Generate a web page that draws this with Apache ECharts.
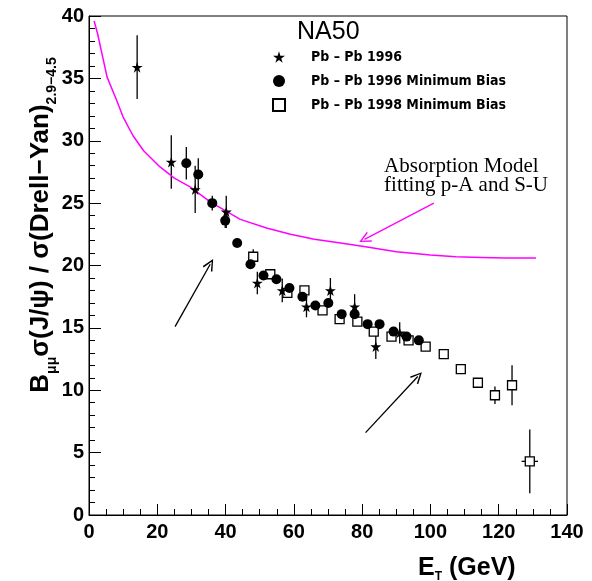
<!DOCTYPE html>
<html>
<head>
<meta charset="utf-8">
<script src="https://cdn.jsdelivr.net/npm/echarts@6/dist/echarts.min.js"></script>
<style>html,body{margin:0;padding:0;background:#fff;}#c{width:592px;height:581px;}</style>
</head>
<body>
<div id="c"></div>
<script>
// ---- data ----
var xTicks = [0, 20, 40, 60, 80, 100, 120, 140];
var yTicks = [0, 5, 10, 15, 20, 25, 30, 35, 40];

// Pb-Pb 1996 (stars)
var pb96_x   = [14.1, 24.1, 31.1, 40.2, 49.3, 56.6, 63.7, 70.7, 77.8, 84.0, 91.0];
var pb96_y   = [35.9, 28.3, 26.1, 24.3, 18.6, 18.0, 16.7, 18.0, 16.7, 13.5, 14.6];
var pb96_err = [2.55, 2.15, 1.9, 1.3, 0.9, 0.95, 0.85, 1.0, 1.0, 1.0, 0.85];

// Pb-Pb 1996 Minimum Bias (filled circles)
var mb96_x   = [28.5, 32.0, 36.1, 39.9, 43.4, 47.3, 51.1, 54.9, 58.7, 62.5, 66.3, 70.1, 74.0, 77.8, 81.6, 85.1, 89.2, 93.0, 96.6];
var mb96_y   = [28.2, 27.3, 25.0, 23.6, 21.8, 20.1, 19.2, 18.9, 18.2, 17.5, 16.8, 17.0, 16.1, 16.1, 15.3, 15.3, 14.7, 14.3, 14.0];
var mb96_err = [1.3, 1.3, 0.6, 0.6, 0.3, 0.3, 0.3, 0.3, 0.3, 0.3, 0.3, 0.3, 0.3, 0.3, 0.3, 0.3, 0.3, 0.3, 0.3];

// Pb-Pb 1998 Minimum Bias (open squares)
var mb98_x    = [48.1, 53.1, 58.1, 63.1, 68.4, 73.4, 78.6, 83.4, 88.6, 93.6, 98.6, 103.9, 108.9, 113.9, 118.9, 123.9, 129.1];
var mb98_y    = [20.7, 19.3, 17.8, 18.0, 16.4, 15.7, 15.5, 14.7, 14.3, 14.0, 13.5, 12.9, 11.7, 10.6, 9.6, 10.4, 4.3];
var mb98_err  = [0.6, 0.3, 0.3, 0.3, 0.3, 0.3, 0.3, 0.3, 0.3, 0.3, 0.3, 0.3, 0.3, 0.3, 0.7, 1.6, 2.55];
var mb98_xerr = [0, 0, 0, 0, 0, 0, 0, 0, 0, 0, 0, 0, 0, 0, 0, 0, 2.4];

// Absorption model curve
var model_x = [1.5, 2.5, 5.3, 8.0, 10.0, 12.9, 16.0, 20.8, 25.0, 29.6, 35.5, 44.3, 52.0, 59.0, 66.0, 73.7, 81.0, 90.0, 100.0, 107.4, 115.0, 122.0, 130.9];
var model_y = [39.6, 38.6, 35.1, 33.3, 31.9, 30.4, 29.2, 27.9, 27.0, 26.3, 25.1, 23.7, 23.0, 22.5, 22.1, 21.8, 21.5, 21.1, 20.85, 20.7, 20.65, 20.6, 20.6];

// Arrows (data coordinates: from -> to)
var arrowsBlack = [[[25.2, 15.1], [35.5, 20.1]], [[81.0, 6.6], [96.3, 11.1]]];
var arrowModel  = [[101.0, 25.0], [80.7, 22.1]];

// ---- build ----
function zip(xs, ys) { return xs.map(function (x, i) { return [x, ys[i]]; }); }
function errData(xs, ys, es, xe) {
  return xs.map(function (x, i) { return [x, ys[i] - es[i], ys[i] + es[i], xe ? xe[i] : 0, ys[i]]; });
}
var starPath = 'path://M50,0 L61,35 L98,35 L68,57 L79,91 L50,70 L21,91 L32,57 L2,35 L39,35 Z';
var vHead = 'path://M50,0 L100,90 L88,96 L50,24 L12,96 L0,90 Z';

function errSeries(data) {
  return {
    type: 'custom', silent: true, z: 1,
    renderItem: function (params, api) {
      var x = api.value(0), lo = api.value(1), hi = api.value(2), xe = api.value(3), y = api.value(4);
      var p1 = api.coord([x, lo]), p2 = api.coord([x, hi]);
      var ch = [{ type: 'line', shape: { x1: p1[0], y1: p1[1], x2: p2[0], y2: p2[1] }, style: { stroke: '#000', lineWidth: 1.3 } }];
      if (xe > 0) {
        var q1 = api.coord([x - xe, y]), q2 = api.coord([x + xe, y]);
        ch.push({ type: 'line', shape: { x1: q1[0], y1: q1[1], x2: q2[0], y2: q2[1] }, style: { stroke: '#000', lineWidth: 1.3 } });
      }
      return { type: 'group', children: ch };
    },
    data: data
  };
}

var chart = echarts.init(document.getElementById('c'), null, { renderer: 'canvas' });
var tickFont = { fontFamily: 'Liberation Sans, Arial, sans-serif', fontWeight: 'bold', fontSize: 20, color: '#000' };

chart.setOption({
  animation: false,
  backgroundColor: '#fff',
  grid: { left: 89, right: 25, top: 16, bottom: 66, show: true, borderColor: '#000', borderWidth: 1, backgroundColor: 'transparent' },
  xAxis: {
    type: 'value', min: 0, max: 140, interval: 20,
    axisLine: { show: true, onZero: false, lineStyle: { color: '#000', width: 1 } },
    axisTick: { show: true, inside: true, length: 11, lineStyle: { color: '#000' } },
    minorTick: { show: true, splitNumber: 4, length: 6, lineStyle: { color: '#000' } },
    splitLine: { show: false },
    axisLabel: Object.assign({ margin: 7, formatter: function (v) { return xTicks.indexOf(v) >= 0 ? String(v) : ''; } }, tickFont)
  },
  yAxis: {
    type: 'value', min: 0, max: 40, interval: 5,
    axisLine: { show: true, onZero: false, lineStyle: { color: '#000', width: 1 } },
    axisTick: { show: true, inside: true, length: 12, lineStyle: { color: '#000' } },
    minorTick: { show: true, splitNumber: 5, length: 6, lineStyle: { color: '#000' } },
    splitLine: { show: false },
    axisLabel: Object.assign({ margin: 5, formatter: function (v) { return yTicks.indexOf(v) >= 0 ? String(v) : ''; } }, tickFont)
  },
  legend: {
    orient: 'vertical', left: 267, top: 45, itemGap: 10, itemWidth: 12, itemHeight: 12,
    data: ['Pb \u2013 Pb 1996', 'Pb \u2013 Pb 1996 Minimum Bias', 'Pb \u2013 Pb 1998 Minimum Bias'],
    textStyle: { fontFamily: 'DejaVu Sans Condensed, Liberation Sans, Arial, sans-serif', fontWeight: 'bold', fontSize: 14, color: '#000', padding: [0, 0, 0, 21] }
  },
  graphic: [
    { type: 'text', left: 297, top: 20, style: { text: 'NA50', font: '25px Liberation Sans, Arial, sans-serif', fill: '#000' } },
    { type: 'text', right: 44, top: 156, style: { text: 'Absorption Model\nfitting p-A and S-U', font: '21px Liberation Serif, Times New Roman, serif', fill: '#000', align: 'right', lineHeight: 19 } },
    { type: 'text', x: 41, y: 225, rotation: Math.PI / 2,
      style: { text: '{a|B}{s|\u03bc\u03bc}{a|\u03c3(J/\u03c8) / \u03c3(Drell\u2212Yan)}{s|2.9\u22124.5}', align: 'center', verticalAlign: 'middle',
        rich: {
          a: { font: 'bold 26px Liberation Sans, Arial, sans-serif', fill: '#000', lineHeight: 36 },
          s: { font: 'bold 14px Liberation Sans, Arial, sans-serif', fill: '#000', lineHeight: 16, verticalAlign: 'bottom' }
        } } },
    { type: 'text', x: 418, y: 553,
      style: { text: '{a|E}{s|T}{a| (GeV)}',
        rich: {
          a: { font: 'bold 25px Liberation Sans, Arial, sans-serif', fill: '#000', lineHeight: 30 },
          s: { font: 'bold 12px Liberation Sans, Arial, sans-serif', fill: '#000', lineHeight: 12, verticalAlign: 'bottom' }
        } } }
  ],
  series: [
    errSeries(errData(pb96_x, pb96_y, pb96_err)),
    errSeries(errData(mb96_x, mb96_y, mb96_err)),
    errSeries(errData(mb98_x, mb98_y, mb98_err, mb98_xerr)),
    {
      name: 'model', type: 'line', data: zip(model_x, model_y), showSymbol: false, symbol: 'none', smooth: false, z: 2,
      lineStyle: { color: '#ff00ff', width: 1.5 },
      markLine: {
        silent: true, animation: false, label: { show: false }, symbol: ['none', vHead], symbolSize: [11, 12],
        lineStyle: { type: 'solid', width: 1.3, color: '#000' },
        data: arrowsBlack.map(function (a) { return [{ coord: a[0] }, { coord: a[1] }]; }).concat([
          [{ coord: arrowModel[0], lineStyle: { color: '#ff00ff', width: 1.3 }, itemStyle: { color: '#ff00ff' } }, { coord: arrowModel[1] }]
        ]),
        itemStyle: { color: '#000' }
      }
    },
    {
      name: 'Pb \u2013 Pb 1998 Minimum Bias', type: 'scatter', data: zip(mb98_x, mb98_y), symbol: 'rect', symbolSize: 9, z: 3,
      itemStyle: { color: '#fff', borderColor: '#000', borderWidth: 1.3, opacity: 1 }
    },
    {
      name: 'Pb \u2013 Pb 1996 Minimum Bias', type: 'scatter', data: zip(mb96_x, mb96_y), symbol: 'circle', symbolSize: 10, z: 4,
      itemStyle: { color: '#000', opacity: 1 }
    },
    {
      name: 'Pb \u2013 Pb 1996', type: 'scatter', data: zip(pb96_x, pb96_y), symbol: starPath, symbolSize: 11, z: 5,
      itemStyle: { color: '#000', opacity: 1 }
    }
  ]
});
</script>
</body>
</html>
